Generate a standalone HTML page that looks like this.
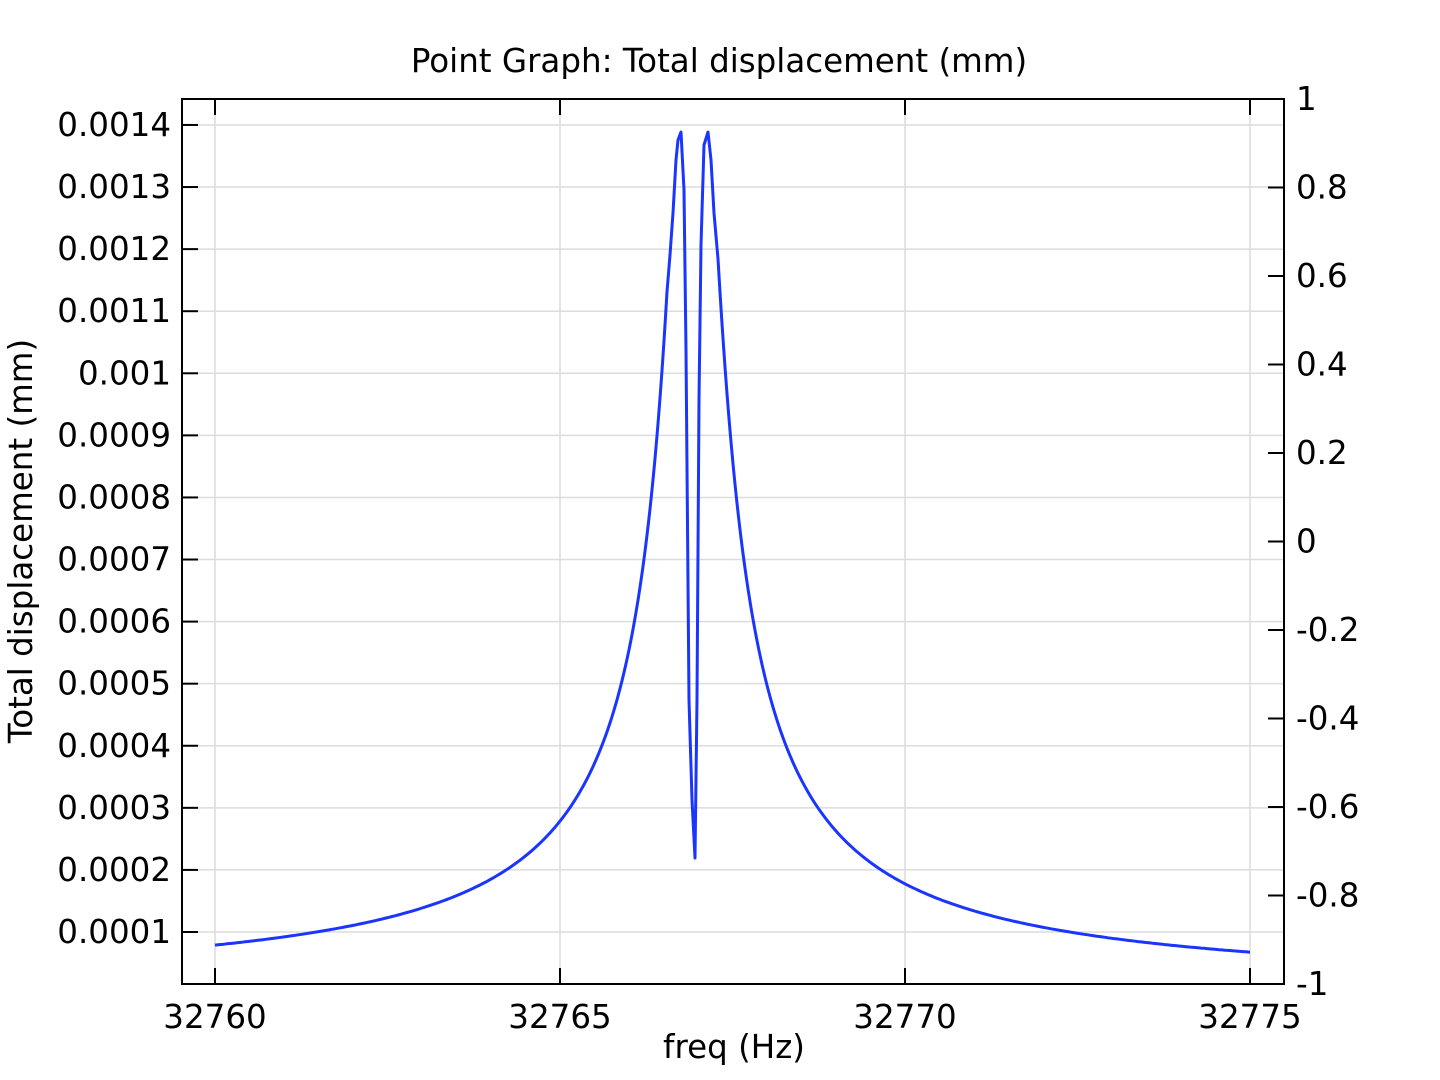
<!DOCTYPE html>
<html><head><style>body{margin:0;background:#fff}svg{display:block}text{font-family:"DejaVu Sans","Liberation Sans",sans-serif;font-size:32.5px;fill:#000}</style></head>
<body>
<svg id="s" width="1440" height="1080" xmlns="http://www.w3.org/2000/svg">
<g id="grid" stroke="#dcdcdc" stroke-width="1.5"></g>
<rect x="182" y="99" width="1102" height="885" fill="none" stroke="#000" stroke-width="2"/>
<g id="ticks" stroke="#000" stroke-width="2"></g>
<g id="labels"></g>
<path id="curve" fill="none" stroke="#1a35ff" stroke-width="3" stroke-linejoin="round"/>
<text x="719" y="72" text-anchor="middle">Point Graph: Total displacement (mm)</text>
<text x="734" y="1058" text-anchor="middle">freq (Hz)</text>
<text transform="translate(32,541) rotate(-90)" text-anchor="middle">Total displacement (mm)</text>
</svg>
<script>
const NS="http://www.w3.org/2000/svg";
function el(p,t,a,txt){const e=document.createElementNS(NS,t);for(const k in a)e.setAttribute(k,a[k]);if(txt!==undefined)e.textContent=txt;document.getElementById(p).appendChild(e);}
const X=f=>215+(f-32760)*69, Y=v=>932-(v-0.0001)/0.0001*62.08;
for(let i=0;i<4;i++){const x=X(32760+5*i);
 el("grid","line",{x1:x,x2:x,y1:99,y2:984});
 el("ticks","line",{x1:x,x2:x,y1:984,y2:968});el("ticks","line",{x1:x,x2:x,y1:99,y2:115});
 el("labels","text",{x:x,y:1028,"text-anchor":"middle"},String(32760+5*i));}
for(let i=1;i<=14;i++){const y=Y(i*0.0001);
 el("grid","line",{x1:182,x2:1284,y1:y,y2:y});
 el("ticks","line",{x1:182,x2:198,y1:y,y2:y});
 const s=i==10?"0.001":(i<10?"0.000"+i:"0.00"+i);
 el("labels","text",{x:171,y:y+11,"text-anchor":"end"},s);}
for(let i=0;i<=10;i++){const v=1-0.2*i,y=99+88.5*i;
 if(i>0&&i<10)el("ticks","line",{x1:1284,x2:1268,y1:y,y2:y});
 let s=Math.abs(v)<1e-9?"0":(+v.toFixed(1)).toString();
 el("labels","text",{x:1296,y:y+11},s);}
const x0=694.6;
const F=(x,k,c)=>{const dx=(x-x0)/69;return Y(1/Math.sqrt((k*dx)**2+c*c));};
let pts=[];
for(let x=215;x<667;x+=(x<600?3:1))pts.push([x,F(x,1822,500)]);
pts.push([667,F(667,1822,500)],[670,255],[673,213],[676,160],[678,140],[681,132],[684,190],[686,350],[689,700],[692,800],[695,858],[697,700],[699,400],[701,245],[704,145],[708,132],[711,160],[714,213]);
for(let x=718;x<=1250;x+=(x<790?1:3))pts.push([x,F(x,1837,570)]);
pts.push([1250,F(1250,1837,570)]);
document.getElementById("curve").setAttribute("d","M"+pts.map(p=>p[0].toFixed(1)+","+p[1].toFixed(1)).join("L"));
</script>
</body></html>
